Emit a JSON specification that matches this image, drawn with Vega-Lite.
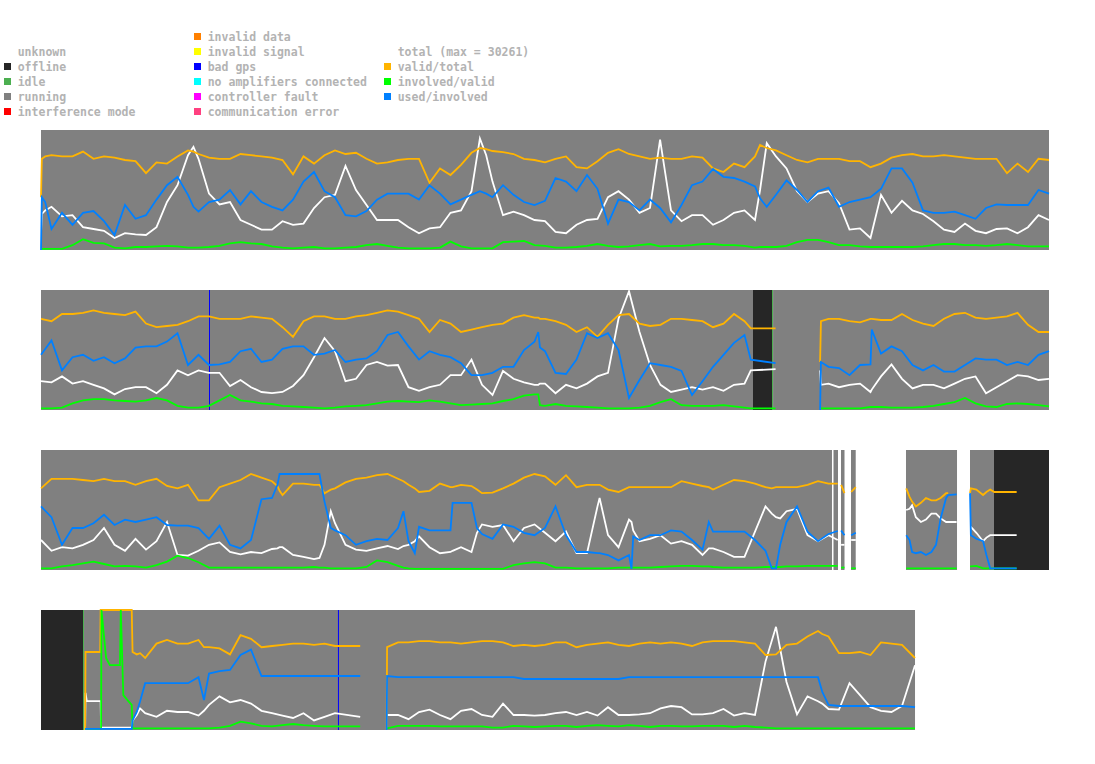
{
"$schema": "https://vega.github.io/schema/vega-lite/v6.json",
"padding": {"left": 3, "top": 29, "right": 4, "bottom": 4},
"background": "white",
"config": {"view": {"stroke": null}},
"spacing": 11,
"resolve": {"scale": {"color": "independent", "x": "independent", "y": "independent"}},
"vconcat": [
{
"width": 1045, "height": 90,
"data": {"values": [
{"c":0,"row":1,"s":"unknown"},{"c":0,"row":2,"s":"offline"},{"c":0,"row":3,"s":"idle"},{"c":0,"row":4,"s":"running"},{"c":0,"row":5,"s":"interference mode"},
{"c":1,"row":0,"s":"invalid data"},{"c":1,"row":1,"s":"invalid signal"},{"c":1,"row":2,"s":"bad gps"},{"c":1,"row":3,"s":"no amplifiers connected"},{"c":1,"row":4,"s":"controller fault"},{"c":1,"row":5,"s":"communication error"},
{"c":2,"row":1,"s":"total (max = 30261)"},{"c":2,"row":2,"s":"valid/total"},{"c":2,"row":3,"s":"involved/valid"},{"c":2,"row":4,"s":"used/involved"}
]},
"encoding": {
"x": {"field": "c", "type": "quantitative", "scale": {"domain": [-0.01842, 5.48158], "nice": false, "zero": false}, "axis": null},
"y": {"field": "row", "type": "quantitative", "scale": {"domain": [-0.5, 5.5], "reverse": true, "nice": false, "zero": false}, "axis": null}
},
"layer": [
{"mark": {"type": "square", "size": 49, "opacity": 1, "strokeWidth": 0},
 "encoding": {"color": {"field": "s", "type": "nominal", "legend": null, "scale": {
 "domain": ["unknown","offline","idle","running","interference mode","invalid data","invalid signal","bad gps","no amplifiers connected","controller fault","communication error","total (max = 30261)","valid/total","involved/valid","used/involved"],
 "range": ["#ffffff","#262626","#4caf50","#808080","#ff0000","#ff8000","#ffff00","#0000ff","#00ffff","#ff00ff","#ff4080","#ffffff","#ffb400","#00ff00","#0080ff"]}}}},
{"mark": {"type": "text", "align": "left", "baseline": "middle", "dx": 10.2, "dy": 1, "font": "DejaVu Sans Mono", "fontSize": 11.5, "fontWeight": "bold", "color": "#b3b3b3"},
 "encoding": {"text": {"field": "s"}}}
]
},
{
"data": {"values": [
{"r":1,"s":"running","a":0,"z":24},
{"r":2,"s":"running","a":0,"z":16.952},{"r":2,"s":"offline","a":16.952,"z":17.405},{"r":2,"s":"idle","a":17.405,"z":17.43},{"r":2,"s":"running","a":17.43,"z":24},{"r":2,"s":"bad gps","a":4.0,"z":4.024},
{"r":3,"s":"running","a":0,"z":18.833},{"r":3,"s":"running","a":18.869,"z":18.976},{"r":3,"s":"running","a":19.048,"z":19.131},{"r":3,"s":"running","a":19.286,"z":19.398},{"r":3,"s":"running","a":20.595,"z":21.81},{"r":3,"s":"running","a":22.119,"z":22.69},{"r":3,"s":"offline","a":22.69,"z":24},
{"r":4,"s":"offline","a":0,"z":1.0},{"r":4,"s":"idle","a":1.0,"z":1.024},{"r":4,"s":"running","a":1.024,"z":20.81},{"r":4,"s":"bad gps","a":7.07,"z":7.094},

{"r":1,"q":1,"h":0,"val":0.44,"tot":0.14,"inv":0.01,"use":0},
{"r":1,"q":1,"h":0.02,"val":0.76,"tot":0.30,"inv":0.01,"use":0.44},
{"r":1,"q":1,"h":0.1,"val":0.78,"tot":0.33,"inv":0.01,"use":0.40},
{"r":1,"q":1,"h":0.25,"val":0.79,"tot":0.36,"inv":0.01,"use":0.175},
{"r":1,"q":1,"h":0.5,"val":0.78,"tot":0.28,"inv":0.01,"use":0.31},
{"r":1,"q":1,"h":0.75,"val":0.78,"tot":0.29,"inv":0.04,"use":0.21},
{"r":1,"q":1,"h":1,"val":0.82,"tot":0.19,"inv":0.09,"use":0.31},
{"r":1,"q":1,"h":1.25,"val":0.76,"tot":0.175,"inv":0.06,"use":0.325},
{"r":1,"q":1,"h":1.5,"val":0.78,"tot":0.16,"inv":0.055,"use":0.24},
{"r":1,"q":1,"h":1.75,"val":0.77,"tot":0.10,"inv":0.02,"use":0.125},
{"r":1,"q":1,"h":2,"val":0.75,"tot":0.14,"inv":0.014,"use":0.375},
{"r":1,"q":1,"h":2.25,"val":0.74,"tot":0.13,"inv":0.025,"use":0.26},
{"r":1,"q":1,"h":2.5,"val":0.64,"tot":0.125,"inv":0.025,"use":0.29},
{"r":1,"q":1,"h":2.75,"val":0.73,"tot":0.19,"inv":0.03,"use":0.42},
{"r":1,"q":1,"h":3,"val":0.72,"tot":0.40,"inv":0.035,"use":0.54},
{"r":1,"q":1,"h":3.25,"val":0.78,"tot":0.54,"inv":0.03,"use":0.61},
{"r":1,"q":1,"h":3.5,"val":0.83,"tot":0.79,"inv":0.02,"use":0.46},
{"r":1,"q":1,"h":3.63,"val":0.82,"tot":0.86,"inv":0.02,"use":0.36},
{"r":1,"q":1,"h":3.75,"val":0.80,"tot":0.76,"inv":0.02,"use":0.32},
{"r":1,"q":1,"h":4,"val":0.77,"tot":0.47,"inv":0.025,"use":0.40},
{"r":1,"q":1,"h":4.25,"val":0.76,"tot":0.38,"inv":0.035,"use":0.42},
{"r":1,"q":1,"h":4.5,"val":0.76,"tot":0.40,"inv":0.055,"use":0.50},
{"r":1,"q":1,"h":4.75,"val":0.80,"tot":0.25,"inv":0.065,"use":0.38},
{"r":1,"q":1,"h":5,"val":0.79,"tot":0.21,"inv":0.055,"use":0.49},
{"r":1,"q":1,"h":5.25,"val":0.78,"tot":0.17,"inv":0.05,"use":0.40},
{"r":1,"q":1,"h":5.5,"val":0.77,"tot":0.17,"inv":0.03,"use":0.36},
{"r":1,"q":1,"h":5.75,"val":0.75,"tot":0.24,"inv":0.02,"use":0.33},
{"r":1,"q":1,"h":6,"val":0.63,"tot":0.21,"inv":0.014,"use":0.42},
{"r":1,"q":1,"h":6.25,"val":0.78,"tot":0.22,"inv":0.02,"use":0.57},
{"r":1,"q":1,"h":6.5,"val":0.72,"tot":0.35,"inv":0.025,"use":0.65},
{"r":1,"q":1,"h":6.75,"val":0.79,"tot":0.44,"inv":0.014,"use":0.49},
{"r":1,"q":1,"h":7,"val":0.83,"tot":0.46,"inv":0.014,"use":0.44},
{"r":1,"q":1,"h":7.25,"val":0.80,"tot":0.70,"inv":0.02,"use":0.29},
{"r":1,"q":1,"h":7.5,"val":0.81,"tot":0.50,"inv":0.025,"use":0.28},
{"r":1,"q":1,"h":7.75,"val":0.76,"tot":0.375,"inv":0.04,"use":0.325},
{"r":1,"q":1,"h":8,"val":0.72,"tot":0.25,"inv":0.05,"use":0.42},
{"r":1,"q":1,"h":8.25,"val":0.73,"tot":0.25,"inv":0.035,"use":0.47},
{"r":1,"q":1,"h":8.5,"val":0.75,"tot":0.25,"inv":0.02,"use":0.47},
{"r":1,"q":1,"h":8.75,"val":0.76,"tot":0.19,"inv":0.014,"use":0.47},
{"r":1,"q":1,"h":9,"val":0.76,"tot":0.14,"inv":0.014,"use":0.42},
{"r":1,"q":1,"h":9.25,"val":0.56,"tot":0.18,"inv":0.014,"use":0.54},
{"r":1,"q":1,"h":9.5,"val":0.68,"tot":0.19,"inv":0.02,"use":0.47},
{"r":1,"q":1,"h":9.75,"val":0.625,"tot":0.31,"inv":0.07,"use":0.38},
{"r":1,"q":1,"h":10,"val":0.71,"tot":0.33,"inv":0.03,"use":0.42},
{"r":1,"q":1,"h":10.25,"val":0.81,"tot":0.49,"inv":0.014,"use":0.46},
{"r":1,"q":1,"h":10.45,"val":0.85,"tot":0.93,"inv":0.014,"use":0.49},
{"r":1,"q":1,"h":10.6,"val":0.84,"tot":0.79,"inv":0.014,"use":0.47},
{"r":1,"q":1,"h":10.75,"val":0.825,"tot":0.57,"inv":0.014,"use":0.44},
{"r":1,"q":1,"h":11,"val":0.815,"tot":0.29,"inv":0.065,"use":0.54},
{"r":1,"q":1,"h":11.25,"val":0.80,"tot":0.32,"inv":0.07,"use":0.46},
{"r":1,"q":1,"h":11.5,"val":0.76,"tot":0.29,"inv":0.075,"use":0.40},
{"r":1,"q":1,"h":11.75,"val":0.75,"tot":0.25,"inv":0.04,"use":0.375},
{"r":1,"q":1,"h":12,"val":0.73,"tot":0.24,"inv":0.035,"use":0.41},
{"r":1,"q":1,"h":12.25,"val":0.76,"tot":0.15,"inv":0.02,"use":0.60},
{"r":1,"q":1,"h":12.5,"val":0.78,"tot":0.14,"inv":0.02,"use":0.57},
{"r":1,"q":1,"h":12.75,"val":0.69,"tot":0.21,"inv":0.025,"use":0.49},
{"r":1,"q":1,"h":13,"val":0.68,"tot":0.25,"inv":0.035,"use":0.625},
{"r":1,"q":1,"h":13.25,"val":0.74,"tot":0.26,"inv":0.05,"use":0.51},
{"r":1,"q":1,"h":13.5,"val":0.81,"tot":0.44,"inv":0.035,"use":0.22},
{"r":1,"q":1,"h":13.75,"val":0.84,"tot":0.49,"inv":0.025,"use":0.42},
{"r":1,"q":1,"h":14,"val":0.80,"tot":0.42,"inv":0.03,"use":0.40},
{"r":1,"q":1,"h":14.25,"val":0.78,"tot":0.31,"inv":0.04,"use":0.33},
{"r":1,"q":1,"h":14.5,"val":0.76,"tot":0.35,"inv":0.05,"use":0.42},
{"r":1,"q":1,"h":14.74,"val":0.77,"tot":0.92,"inv":0.03,"use":0.35},
{"r":1,"q":1,"h":15,"val":0.76,"tot":0.33,"inv":0.035,"use":0.23},
{"r":1,"q":1,"h":15.25,"val":0.76,"tot":0.24,"inv":0.035,"use":0.375},
{"r":1,"q":1,"h":15.5,"val":0.78,"tot":0.29,"inv":0.04,"use":0.54},
{"r":1,"q":1,"h":15.75,"val":0.77,"tot":0.29,"inv":0.05,"use":0.57},
{"r":1,"q":1,"h":16,"val":0.68,"tot":0.21,"inv":0.05,"use":0.675},
{"r":1,"q":1,"h":16.25,"val":0.65,"tot":0.25,"inv":0.04,"use":0.61},
{"r":1,"q":1,"h":16.5,"val":0.72,"tot":0.31,"inv":0.04,"use":0.60},
{"r":1,"q":1,"h":16.75,"val":0.69,"tot":0.33,"inv":0.035,"use":0.57},
{"r":1,"q":1,"h":17,"val":0.78,"tot":0.25,"inv":0.02,"use":0.53},
{"r":1,"q":1,"h":17.12,"val":0.875,"tot":0.50,"inv":0.025,"use":0.43},
{"r":1,"q":1,"h":17.28,"val":0.85,"tot":0.89,"inv":0.025,"use":0.36},
{"r":1,"q":1,"h":17.5,"val":0.83,"tot":0.78,"inv":0.025,"use":0.46},
{"r":1,"q":1,"h":17.75,"val":0.79,"tot":0.68,"inv":0.035,"use":0.58},
{"r":1,"q":1,"h":18,"val":0.75,"tot":0.49,"inv":0.065,"use":0.50},
{"r":1,"q":1,"h":18.25,"val":0.73,"tot":0.40,"inv":0.085,"use":0.40},
{"r":1,"q":1,"h":18.5,"val":0.76,"tot":0.47,"inv":0.085,"use":0.49},
{"r":1,"q":1,"h":18.75,"val":0.76,"tot":0.49,"inv":0.065,"use":0.52},
{"r":1,"q":1,"h":19,"val":0.76,"tot":0.39,"inv":0.04,"use":0.36},
{"r":1,"q":1,"h":19.25,"val":0.74,"tot":0.17,"inv":0.04,"use":0.40},
{"r":1,"q":1,"h":19.5,"val":0.74,"tot":0.18,"inv":0.03,"use":0.42},
{"r":1,"q":1,"h":19.75,"val":0.69,"tot":0.10,"inv":0.025,"use":0.44},
{"r":1,"q":1,"h":20,"val":0.72,"tot":0.46,"inv":0.025,"use":0.51},
{"r":1,"q":1,"h":20.25,"val":0.77,"tot":0.31,"inv":0.025,"use":0.68},
{"r":1,"q":1,"h":20.5,"val":0.79,"tot":0.41,"inv":0.025,"use":0.68},
{"r":1,"q":1,"h":20.75,"val":0.80,"tot":0.33,"inv":0.025,"use":0.56},
{"r":1,"q":1,"h":21,"val":0.78,"tot":0.30,"inv":0.03,"use":0.33},
{"r":1,"q":1,"h":21.25,"val":0.78,"tot":0.24,"inv":0.04,"use":0.31},
{"r":1,"q":1,"h":21.5,"val":0.79,"tot":0.17,"inv":0.05,"use":0.31},
{"r":1,"q":1,"h":21.75,"val":0.78,"tot":0.15,"inv":0.05,"use":0.32},
{"r":1,"q":1,"h":22,"val":0.77,"tot":0.22,"inv":0.04,"use":0.29},
{"r":1,"q":1,"h":22.25,"val":0.76,"tot":0.16,"inv":0.04,"use":0.26},
{"r":1,"q":1,"h":22.5,"val":0.76,"tot":0.14,"inv":0.035,"use":0.35},
{"r":1,"q":1,"h":22.75,"val":0.76,"tot":0.175,"inv":0.04,"use":0.38},
{"r":1,"q":1,"h":23,"val":0.64,"tot":0.18,"inv":0.05,"use":0.375},
{"r":1,"q":1,"h":23.25,"val":0.72,"tot":0.14,"inv":0.04,"use":0.375},
{"r":1,"q":1,"h":23.5,"val":0.65,"tot":0.19,"inv":0.03,"use":0.375},
{"r":1,"q":1,"h":23.75,"val":0.76,"tot":0.29,"inv":0.03,"use":0.50},
{"r":1,"q":1,"h":24,"val":0.75,"tot":0.25,"inv":0.03,"use":0.47},

{"r":2,"q":1,"h":0,"val":0.76,"tot":0.24,"inv":0.014,"use":0.46},
{"r":2,"q":1,"h":0.25,"val":0.74,"tot":0.23,"inv":0.014,"use":0.58},
{"r":2,"q":1,"h":0.5,"val":0.80,"tot":0.28,"inv":0.02,"use":0.33},
{"r":2,"q":1,"h":0.75,"val":0.80,"tot":0.22,"inv":0.055,"use":0.44},
{"r":2,"q":1,"h":1,"val":0.81,"tot":0.24,"inv":0.08,"use":0.46},
{"r":2,"q":1,"h":1.25,"val":0.83,"tot":0.21,"inv":0.09,"use":0.41},
{"r":2,"q":1,"h":1.5,"val":0.81,"tot":0.18,"inv":0.09,"use":0.44},
{"r":2,"q":1,"h":1.75,"val":0.80,"tot":0.13,"inv":0.08,"use":0.39},
{"r":2,"q":1,"h":2,"val":0.79,"tot":0.175,"inv":0.075,"use":0.43},
{"r":2,"q":1,"h":2.25,"val":0.82,"tot":0.19,"inv":0.07,"use":0.52},
{"r":2,"q":1,"h":2.5,"val":0.72,"tot":0.19,"inv":0.08,"use":0.53},
{"r":2,"q":1,"h":2.75,"val":0.69,"tot":0.14,"inv":0.10,"use":0.53},
{"r":2,"q":1,"h":3,"val":0.70,"tot":0.21,"inv":0.08,"use":0.57},
{"r":2,"q":1,"h":3.25,"val":0.71,"tot":0.33,"inv":0.035,"use":0.64},
{"r":2,"q":1,"h":3.5,"val":0.74,"tot":0.29,"inv":0.02,"use":0.375},
{"r":2,"q":1,"h":3.75,"val":0.78,"tot":0.33,"inv":0.02,"use":0.46},
{"r":2,"q":1,"h":4,"val":0.78,"tot":0.31,"inv":0.035,"use":0.375},
{"r":2,"q":1,"h":4.25,"val":0.76,"tot":0.31,"inv":0.08,"use":0.38},
{"r":2,"q":1,"h":4.5,"val":0.76,"tot":0.20,"inv":0.125,"use":0.40},
{"r":2,"q":1,"h":4.75,"val":0.76,"tot":0.25,"inv":0.08,"use":0.49},
{"r":2,"q":1,"h":5,"val":0.78,"tot":0.19,"inv":0.07,"use":0.51},
{"r":2,"q":1,"h":5.25,"val":0.77,"tot":0.15,"inv":0.055,"use":0.40},
{"r":2,"q":1,"h":5.5,"val":0.76,"tot":0.14,"inv":0.05,"use":0.42},
{"r":2,"q":1,"h":5.75,"val":0.69,"tot":0.15,"inv":0.035,"use":0.51},
{"r":2,"q":1,"h":6,"val":0.61,"tot":0.20,"inv":0.03,"use":0.53},
{"r":2,"q":1,"h":6.25,"val":0.74,"tot":0.29,"inv":0.025,"use":0.53},
{"r":2,"q":1,"h":6.5,"val":0.78,"tot":0.44,"inv":0.02,"use":0.46},
{"r":2,"q":1,"h":6.75,"val":0.78,"tot":0.60,"inv":0.014,"use":0.47},
{"r":2,"q":1,"h":7,"val":0.76,"tot":0.49,"inv":0.02,"use":0.50},
{"r":2,"q":1,"h":7.25,"val":0.76,"tot":0.24,"inv":0.03,"use":0.40},
{"r":2,"q":1,"h":7.5,"val":0.78,"tot":0.26,"inv":0.035,"use":0.42},
{"r":2,"q":1,"h":7.75,"val":0.79,"tot":0.375,"inv":0.04,"use":0.43},
{"r":2,"q":1,"h":8,"val":0.81,"tot":0.40,"inv":0.055,"use":0.49},
{"r":2,"q":1,"h":8.25,"val":0.83,"tot":0.37,"inv":0.07,"use":0.625},
{"r":2,"q":1,"h":8.5,"val":0.82,"tot":0.375,"inv":0.075,"use":0.65},
{"r":2,"q":1,"h":8.75,"val":0.79,"tot":0.19,"inv":0.07,"use":0.53},
{"r":2,"q":1,"h":9,"val":0.76,"tot":0.16,"inv":0.065,"use":0.42},
{"r":2,"q":1,"h":9.25,"val":0.65,"tot":0.19,"inv":0.08,"use":0.49},
{"r":2,"q":1,"h":9.5,"val":0.75,"tot":0.21,"inv":0.07,"use":0.46},
{"r":2,"q":1,"h":9.75,"val":0.72,"tot":0.29,"inv":0.055,"use":0.44},
{"r":2,"q":1,"h":10,"val":0.65,"tot":0.29,"inv":0.04,"use":0.39},
{"r":2,"q":1,"h":10.25,"val":0.67,"tot":0.42,"inv":0.045,"use":0.29},
{"r":2,"q":1,"h":10.5,"val":0.69,"tot":0.21,"inv":0.05,"use":0.29},
{"r":2,"q":1,"h":10.75,"val":0.71,"tot":0.125,"inv":0.055,"use":0.31},
{"r":2,"q":1,"h":11,"val":0.72,"tot":0.325,"inv":0.075,"use":0.36},
{"r":2,"q":1,"h":11.25,"val":0.77,"tot":0.26,"inv":0.09,"use":0.36},
{"r":2,"q":1,"h":11.5,"val":0.79,"tot":0.23,"inv":0.12,"use":0.50},
{"r":2,"q":1,"h":11.75,"val":0.77,"tot":0.21,"inv":0.13,"use":0.57},
{"r":2,"q":1,"h":11.84,"val":0.77,"tot":0.21,"inv":0.13,"use":0.65},
{"r":2,"q":1,"h":11.88,"val":0.76,"tot":0.22,"inv":0.04,"use":0.52},
{"r":2,"q":1,"h":12,"val":0.76,"tot":0.22,"inv":0.035,"use":0.49},
{"r":2,"q":1,"h":12.25,"val":0.74,"tot":0.14,"inv":0.05,"use":0.31},
{"r":2,"q":1,"h":12.5,"val":0.71,"tot":0.21,"inv":0.035,"use":0.30},
{"r":2,"q":1,"h":12.75,"val":0.65,"tot":0.18,"inv":0.03,"use":0.42},
{"r":2,"q":1,"h":13,"val":0.69,"tot":0.22,"inv":0.025,"use":0.64},
{"r":2,"q":1,"h":13.25,"val":0.61,"tot":0.28,"inv":0.02,"use":0.60},
{"r":2,"q":1,"h":13.5,"val":0.71,"tot":0.31,"inv":0.014,"use":0.64},
{"r":2,"q":1,"h":13.75,"val":0.79,"tot":0.76,"inv":0.014,"use":0.50},
{"r":2,"q":1,"h":14,"val":0.80,"tot":0.99,"inv":0.014,"use":0.10},
{"r":2,"q":1,"h":14.25,"val":0.72,"tot":0.65,"inv":0.02,"use":0.25},
{"r":2,"q":1,"h":14.5,"val":0.70,"tot":0.375,"inv":0.035,"use":0.39},
{"r":2,"q":1,"h":14.75,"val":0.71,"tot":0.21,"inv":0.065,"use":0.375},
{"r":2,"q":1,"h":15,"val":0.76,"tot":0.15,"inv":0.09,"use":0.36},
{"r":2,"q":1,"h":15.25,"val":0.76,"tot":0.17,"inv":0.04,"use":0.325},
{"r":2,"q":1,"h":15.5,"val":0.75,"tot":0.19,"inv":0.035,"use":0.125},
{"r":2,"q":1,"h":15.75,"val":0.74,"tot":0.17,"inv":0.035,"use":0.24},
{"r":2,"q":1,"h":16,"val":0.69,"tot":0.19,"inv":0.035,"use":0.36},
{"r":2,"q":1,"h":16.25,"val":0.72,"tot":0.16,"inv":0.04,"use":0.46},
{"r":2,"q":1,"h":16.5,"val":0.80,"tot":0.21,"inv":0.03,"use":0.56},
{"r":2,"q":1,"h":16.75,"val":0.74,"tot":0.22,"inv":0.02,"use":0.625},
{"r":2,"q":1,"h":16.9,"val":0.68,"tot":0.33,"inv":0.014,"use":0.42},
{"r":2,"q":1,"h":17.49,"val":0.68,"tot":0.34,"inv":0.014,"use":0.39},
{"r":2,"q":2,"h":18.55,"val":0.40,"tot":0.33,"inv":0.014,"use":0},
{"r":2,"q":2,"h":18.57,"val":0.74,"tot":0.21,"inv":0.014,"use":0.40},
{"r":2,"q":2,"h":18.75,"val":0.76,"tot":0.22,"inv":0.014,"use":0.36},
{"r":2,"q":2,"h":19,"val":0.76,"tot":0.19,"inv":0.014,"use":0.35},
{"r":2,"q":2,"h":19.25,"val":0.74,"tot":0.21,"inv":0.014,"use":0.29},
{"r":2,"q":2,"h":19.5,"val":0.73,"tot":0.22,"inv":0.014,"use":0.375},
{"r":2,"q":2,"h":19.75,"val":0.76,"tot":0.15,"inv":0.025,"use":0.38},
{"r":2,"q":2,"h":19.78,"val":0.76,"tot":0.17,"inv":0.025,"use":0.67},
{"r":2,"q":2,"h":20,"val":0.75,"tot":0.28,"inv":0.025,"use":0.47},
{"r":2,"q":2,"h":20.25,"val":0.75,"tot":0.38,"inv":0.02,"use":0.53},
{"r":2,"q":2,"h":20.5,"val":0.80,"tot":0.26,"inv":0.02,"use":0.49},
{"r":2,"q":2,"h":20.75,"val":0.75,"tot":0.18,"inv":0.02,"use":0.375},
{"r":2,"q":2,"h":21,"val":0.72,"tot":0.21,"inv":0.025,"use":0.33},
{"r":2,"q":2,"h":21.25,"val":0.70,"tot":0.21,"inv":0.035,"use":0.375},
{"r":2,"q":2,"h":21.5,"val":0.76,"tot":0.18,"inv":0.05,"use":0.32},
{"r":2,"q":2,"h":21.75,"val":0.80,"tot":0.22,"inv":0.065,"use":0.32},
{"r":2,"q":2,"h":22,"val":0.81,"tot":0.26,"inv":0.10,"use":0.375},
{"r":2,"q":2,"h":22.25,"val":0.77,"tot":0.28,"inv":0.055,"use":0.43},
{"r":2,"q":2,"h":22.5,"val":0.76,"tot":0.14,"inv":0.03,"use":0.42},
{"r":2,"q":2,"h":22.75,"val":0.77,"tot":0.19,"inv":0.025,"use":0.42},
{"r":2,"q":2,"h":23,"val":0.78,"tot":0.24,"inv":0.05,"use":0.375},
{"r":2,"q":2,"h":23.25,"val":0.81,"tot":0.29,"inv":0.055,"use":0.40},
{"r":2,"q":2,"h":23.5,"val":0.71,"tot":0.28,"inv":0.05,"use":0.375},
{"r":2,"q":2,"h":23.75,"val":0.65,"tot":0.25,"inv":0.04,"use":0.46},
{"r":2,"q":2,"h":24,"val":0.65,"tot":0.26,"inv":0.03,"use":0.49},

{"r":3,"q":1,"h":0,"val":0.68,"tot":0.25,"inv":0.014,"use":0.53},
{"r":3,"q":1,"h":0.25,"val":0.76,"tot":0.16,"inv":0.014,"use":0.44},
{"r":3,"q":1,"h":0.5,"val":0.76,"tot":0.19,"inv":0.03,"use":0.21},
{"r":3,"q":1,"h":0.75,"val":0.76,"tot":0.18,"inv":0.04,"use":0.35},
{"r":3,"q":1,"h":1,"val":0.75,"tot":0.21,"inv":0.055,"use":0.35},
{"r":3,"q":1,"h":1.25,"val":0.74,"tot":0.25,"inv":0.07,"use":0.39},
{"r":3,"q":1,"h":1.5,"val":0.76,"tot":0.35,"inv":0.05,"use":0.46},
{"r":3,"q":1,"h":1.75,"val":0.74,"tot":0.21,"inv":0.03,"use":0.375},
{"r":3,"q":1,"h":2,"val":0.74,"tot":0.16,"inv":0.035,"use":0.42},
{"r":3,"q":1,"h":2.25,"val":0.71,"tot":0.26,"inv":0.03,"use":0.40},
{"r":3,"q":1,"h":2.5,"val":0.74,"tot":0.17,"inv":0.02,"use":0.42},
{"r":3,"q":1,"h":2.75,"val":0.76,"tot":0.24,"inv":0.04,"use":0.44},
{"r":3,"q":1,"h":3,"val":0.70,"tot":0.40,"inv":0.07,"use":0.375},
{"r":3,"q":1,"h":3.25,"val":0.68,"tot":0.125,"inv":0.12,"use":0.37},
{"r":3,"q":1,"h":3.5,"val":0.71,"tot":0.12,"inv":0.10,"use":0.37},
{"r":3,"q":1,"h":3.75,"val":0.58,"tot":0.16,"inv":0.065,"use":0.35},
{"r":3,"q":1,"h":4,"val":0.58,"tot":0.21,"inv":0.02,"use":0.26},
{"r":3,"q":1,"h":4.25,"val":0.69,"tot":0.23,"inv":0.02,"use":0.37},
{"r":3,"q":1,"h":4.5,"val":0.72,"tot":0.15,"inv":0.02,"use":0.21},
{"r":3,"q":1,"h":4.75,"val":0.75,"tot":0.13,"inv":0.02,"use":0.18},
{"r":3,"q":1,"h":5,"val":0.80,"tot":0.15,"inv":0.02,"use":0.25},
{"r":3,"q":1,"h":5.25,"val":0.77,"tot":0.14,"inv":0.02,"use":0.59},
{"r":3,"q":1,"h":5.5,"val":0.74,"tot":0.175,"inv":0.02,"use":0.60},
{"r":3,"q":1,"h":5.63,"val":0.70,"tot":0.18,"inv":0.02,"use":0.71},
{"r":3,"q":1,"h":5.68,"val":0.66,"tot":0.19,"inv":0.02,"use":0.80},
{"r":3,"q":1,"h":5.75,"val":0.625,"tot":0.19,"inv":0.02,"use":0.80},
{"r":3,"q":1,"h":6,"val":0.72,"tot":0.125,"inv":0.02,"use":0.80},
{"r":3,"q":1,"h":6.25,"val":0.72,"tot":0.11,"inv":0.02,"use":0.80},
{"r":3,"q":1,"h":6.5,"val":0.71,"tot":0.09,"inv":0.025,"use":0.80},
{"r":3,"q":1,"h":6.63,"val":0.71,"tot":0.10,"inv":0.02,"use":0.80},
{"r":3,"q":1,"h":6.75,"val":0.64,"tot":0.21,"inv":0.02,"use":0.57},
{"r":3,"q":1,"h":6.9,"val":0.67,"tot":0.49,"inv":0.014,"use":0.35},
{"r":3,"q":1,"h":7,"val":0.68,"tot":0.39,"inv":0.014,"use":0.33},
{"r":3,"q":1,"h":7.25,"val":0.73,"tot":0.21,"inv":0.014,"use":0.29},
{"r":3,"q":1,"h":7.5,"val":0.76,"tot":0.17,"inv":0.014,"use":0.21},
{"r":3,"q":1,"h":7.75,"val":0.77,"tot":0.16,"inv":0.025,"use":0.24},
{"r":3,"q":1,"h":8,"val":0.79,"tot":0.18,"inv":0.08,"use":0.26},
{"r":3,"q":1,"h":8.25,"val":0.80,"tot":0.20,"inv":0.065,"use":0.25},
{"r":3,"q":1,"h":8.5,"val":0.76,"tot":0.175,"inv":0.035,"use":0.35},
{"r":3,"q":1,"h":8.63,"val":0.74,"tot":0.20,"inv":0.02,"use":0.49},
{"r":3,"q":1,"h":8.75,"val":0.71,"tot":0.21,"inv":0.014,"use":0.24},
{"r":3,"q":1,"h":8.9,"val":0.68,"tot":0.24,"inv":0.01,"use":0.14},
{"r":3,"q":1,"h":9,"val":0.65,"tot":0.28,"inv":0.01,"use":0.36},
{"r":3,"q":1,"h":9.25,"val":0.66,"tot":0.19,"inv":0.01,"use":0.33},
{"r":3,"q":1,"h":9.5,"val":0.72,"tot":0.14,"inv":0.01,"use":0.33},
{"r":3,"q":1,"h":9.75,"val":0.69,"tot":0.15,"inv":0.01,"use":0.33},
{"r":3,"q":1,"h":9.8,"val":0.69,"tot":0.16,"inv":0.01,"use":0.56},
{"r":3,"q":1,"h":10,"val":0.71,"tot":0.19,"inv":0.01,"use":0.56},
{"r":3,"q":1,"h":10.25,"val":0.70,"tot":0.15,"inv":0.01,"use":0.56},
{"r":3,"q":1,"h":10.38,"val":0.67,"tot":0.31,"inv":0.01,"use":0.35},
{"r":3,"q":1,"h":10.5,"val":0.64,"tot":0.38,"inv":0.01,"use":0.30},
{"r":3,"q":1,"h":10.75,"val":0.645,"tot":0.36,"inv":0.01,"use":0.26},
{"r":3,"q":1,"h":11,"val":0.68,"tot":0.375,"inv":0.01,"use":0.38},
{"r":3,"q":1,"h":11.25,"val":0.72,"tot":0.24,"inv":0.04,"use":0.36},
{"r":3,"q":1,"h":11.5,"val":0.77,"tot":0.35,"inv":0.055,"use":0.31},
{"r":3,"q":1,"h":11.75,"val":0.80,"tot":0.38,"inv":0.065,"use":0.29},
{"r":3,"q":1,"h":12,"val":0.78,"tot":0.31,"inv":0.055,"use":0.35},
{"r":3,"q":1,"h":12.25,"val":0.71,"tot":0.24,"inv":0.02,"use":0.53},
{"r":3,"q":1,"h":12.5,"val":0.79,"tot":0.32,"inv":0.02,"use":0.29},
{"r":3,"q":1,"h":12.75,"val":0.69,"tot":0.14,"inv":0.014,"use":0.15},
{"r":3,"q":1,"h":13,"val":0.71,"tot":0.14,"inv":0.014,"use":0.15},
{"r":3,"q":1,"h":13.25,"val":0.71,"tot":0.53,"inv":0.014,"use":0.14},
{"r":3,"q":1,"h":13.3,"val":0.71,"tot":0.60,"inv":0.014,"use":0.14},
{"r":3,"q":1,"h":13.5,"val":0.67,"tot":0.29,"inv":0.014,"use":0.125},
{"r":3,"q":1,"h":13.75,"val":0.65,"tot":0.19,"inv":0.02,"use":0.08},
{"r":3,"q":1,"h":14,"val":0.69,"tot":0.42,"inv":0.02,"use":0.125},
{"r":3,"q":1,"h":14.06,"val":0.69,"tot":0.40,"inv":0.02,"use":0.01},
{"r":3,"q":1,"h":14.1,"val":0.69,"tot":0.33,"inv":0.02,"use":0.28},
{"r":3,"q":1,"h":14.25,"val":0.69,"tot":0.24,"inv":0.02,"use":0.25},
{"r":3,"q":1,"h":14.5,"val":0.69,"tot":0.26,"inv":0.02,"use":0.29},
{"r":3,"q":1,"h":14.75,"val":0.69,"tot":0.29,"inv":0.025,"use":0.29},
{"r":3,"q":1,"h":15,"val":0.69,"tot":0.22,"inv":0.03,"use":0.33},
{"r":3,"q":1,"h":15.25,"val":0.74,"tot":0.24,"inv":0.035,"use":0.32},
{"r":3,"q":1,"h":15.5,"val":0.72,"tot":0.21,"inv":0.035,"use":0.25},
{"r":3,"q":1,"h":15.75,"val":0.70,"tot":0.125,"inv":0.03,"use":0.17},
{"r":3,"q":1,"h":15.9,"val":0.69,"tot":0.18,"inv":0.03,"use":0.40},
{"r":3,"q":1,"h":16,"val":0.67,"tot":0.18,"inv":0.025,"use":0.32},
{"r":3,"q":1,"h":16.25,"val":0.71,"tot":0.15,"inv":0.02,"use":0.32},
{"r":3,"q":1,"h":16.5,"val":0.75,"tot":0.11,"inv":0.02,"use":0.32},
{"r":3,"q":1,"h":16.75,"val":0.74,"tot":0.11,"inv":0.02,"use":0.32},
{"r":3,"q":1,"h":17,"val":0.72,"tot":0.32,"inv":0.02,"use":0.25},
{"r":3,"q":1,"h":17.25,"val":0.69,"tot":0.53,"inv":0.025,"use":0.16},
{"r":3,"q":1,"h":17.4,"val":0.68,"tot":0.47,"inv":0.025,"use":0.014},
{"r":3,"q":1,"h":17.5,"val":0.69,"tot":0.44,"inv":0.025,"use":0.014},
{"r":3,"q":1,"h":17.6,"val":0.69,"tot":0.43,"inv":0.025,"use":0.21},
{"r":3,"q":1,"h":17.75,"val":0.69,"tot":0.49,"inv":0.03,"use":0.40},
{"r":3,"q":1,"h":18,"val":0.69,"tot":0.51,"inv":0.03,"use":0.53},
{"r":3,"q":1,"h":18.25,"val":0.71,"tot":0.29,"inv":0.035,"use":0.32},
{"r":3,"q":1,"h":18.5,"val":0.74,"tot":0.24,"inv":0.035,"use":0.24},
{"r":3,"q":1,"h":18.75,"val":0.72,"tot":0.29,"inv":0.035,"use":0.30},
{"r":3,"q":1,"h":18.97,"val":0.72,"tot":0.25,"inv":0.035,"use":0.325},
{"r":3,"q":2,"h":19.05,"val":0.71,"tot":0.21,"inv":0.02,"use":0.33},
{"r":3,"q":2,"h":19.13,"val":0.64,"tot":0.21,"inv":0.02,"use":0.29},
{"r":3,"q":3,"h":19.29,"val":0.65,"tot":0.25,"inv":0.014,"use":0.29},
{"r":3,"q":3,"h":19.4,"val":0.69,"tot":0.25,"inv":0.014,"use":0.31},
{"r":3,"q":4,"h":20.6,"val":0.68,"tot":0.50,"inv":0.014,"use":0.29},
{"r":3,"q":4,"h":20.68,"val":0.61,"tot":0.51,"inv":0.014,"use":0.25},
{"r":3,"q":4,"h":20.74,"val":0.57,"tot":0.54,"inv":0.014,"use":0.15},
{"r":3,"q":4,"h":20.83,"val":0.53,"tot":0.44,"inv":0.014,"use":0.14},
{"r":3,"q":4,"h":20.95,"val":0.56,"tot":0.40,"inv":0.014,"use":0.15},
{"r":3,"q":4,"h":21.07,"val":0.60,"tot":0.42,"inv":0.014,"use":0.125},
{"r":3,"q":4,"h":21.2,"val":0.58,"tot":0.47,"inv":0.014,"use":0.15},
{"r":3,"q":4,"h":21.31,"val":0.58,"tot":0.47,"inv":0.014,"use":0.21},
{"r":3,"q":4,"h":21.42,"val":0.60,"tot":0.43,"inv":0.014,"use":0.43},
{"r":3,"q":4,"h":21.55,"val":0.64,"tot":0.40,"inv":0.014,"use":0.60},
{"r":3,"q":4,"h":21.6,"val":0.64,"tot":0.40,"inv":0.014,"use":0.625},
{"r":3,"q":4,"h":21.8,"val":null,"tot":0.40,"inv":0.014,"use":0.63},
{"r":3,"q":5,"h":22.12,"val":0.64,"tot":0.36,"inv":0.03,"use":0.64},
{"r":3,"q":5,"h":22.14,"val":0.68,"tot":0.36,"inv":0.03,"use":0.29},
{"r":3,"q":5,"h":22.27,"val":0.67,"tot":0.31,"inv":0.035,"use":0.26},
{"r":3,"q":5,"h":22.43,"val":0.625,"tot":0.24,"inv":0.014,"use":0.24},
{"r":3,"q":5,"h":22.51,"val":0.65,"tot":0.27,"inv":0.014,"use":0.125},
{"r":3,"q":5,"h":22.6,"val":0.67,"tot":0.29,"inv":0.014,"use":0.014},
{"r":3,"q":5,"h":22.7,"val":0.65,"tot":0.29,"inv":0.014,"use":0.014},
{"r":3,"q":5,"h":23.23,"val":0.65,"tot":0.29,"inv":0.014,"use":0.014},

{"r":4,"q":1,"h":1.05,"val":0,"tot":0,"inv":0.01,"use":0.01},
{"r":4,"q":1,"h":1.06,"val":0.65,"tot":0.31,"inv":0.01,"use":0.01},
{"r":4,"q":1,"h":1.09,"val":0.65,"tot":0.24,"inv":0.01,"use":0.01},
{"r":4,"q":1,"h":1.41,"val":0.65,"tot":0.24,"inv":0.01,"use":0.01},
{"r":4,"q":1,"h":1.42,"val":1.0,"tot":0.24,"inv":0.01,"use":0.01},
{"r":4,"q":1,"h":1.43,"val":1.0,"tot":0.02,"inv":0.01,"use":0.01},
{"r":4,"q":1,"h":1.44,"val":1.0,"tot":0.02,"inv":1.0,"use":0.01},
{"r":4,"q":1,"h":1.55,"val":1.0,"tot":0.02,"inv":0.60,"use":0.01},
{"r":4,"q":1,"h":1.64,"val":1.0,"tot":0.02,"inv":0.54,"use":0.01},
{"r":4,"q":1,"h":1.88,"val":1.0,"tot":0.02,"inv":0.54,"use":0.01},
{"r":4,"q":1,"h":1.9,"val":1.0,"tot":0.02,"inv":1.0,"use":0.01},
{"r":4,"q":1,"h":1.96,"val":1.0,"tot":0.02,"inv":0.29,"use":0.01},
{"r":4,"q":1,"h":2.08,"val":1.0,"tot":0.02,"inv":0.24,"use":0.01},
{"r":4,"q":1,"h":2.16,"val":1.0,"tot":0.02,"inv":0.21,"use":0.01},
{"r":4,"q":1,"h":2.18,"val":0.65,"tot":0.08,"inv":0.014,"use":0.08},
{"r":4,"q":1,"h":2.28,"val":0.63,"tot":0.125,"inv":0.014,"use":0.15},
{"r":4,"q":1,"h":2.36,"val":0.64,"tot":0.18,"inv":0.014,"use":0.24},
{"r":4,"q":1,"h":2.48,"val":0.60,"tot":0.14,"inv":0.014,"use":0.39},
{"r":4,"q":1,"h":2.75,"val":0.72,"tot":0.11,"inv":0.014,"use":0.39},
{"r":4,"q":1,"h":3,"val":0.75,"tot":0.16,"inv":0.014,"use":0.39},
{"r":4,"q":1,"h":3.25,"val":0.72,"tot":0.15,"inv":0.014,"use":0.39},
{"r":4,"q":1,"h":3.5,"val":0.72,"tot":0.15,"inv":0.014,"use":0.39},
{"r":4,"q":1,"h":3.75,"val":0.75,"tot":0.12,"inv":0.014,"use":0.44},
{"r":4,"q":1,"h":3.88,"val":0.69,"tot":0.16,"inv":0.014,"use":0.25},
{"r":4,"q":1,"h":4,"val":0.69,"tot":0.21,"inv":0.014,"use":0.47},
{"r":4,"q":1,"h":4.25,"val":0.68,"tot":0.28,"inv":0.02,"use":0.49},
{"r":4,"q":1,"h":4.5,"val":0.63,"tot":0.23,"inv":0.035,"use":0.50},
{"r":4,"q":1,"h":4.75,"val":0.79,"tot":0.25,"inv":0.07,"use":0.625},
{"r":4,"q":1,"h":5,"val":0.76,"tot":0.22,"inv":0.055,"use":0.67},
{"r":4,"q":1,"h":5.25,"val":0.69,"tot":0.16,"inv":0.035,"use":0.45},
{"r":4,"q":1,"h":5.5,"val":0.70,"tot":0.14,"inv":0.03,"use":0.45},
{"r":4,"q":1,"h":5.75,"val":0.71,"tot":0.12,"inv":0.04,"use":0.45},
{"r":4,"q":1,"h":6,"val":0.72,"tot":0.10,"inv":0.05,"use":0.45},
{"r":4,"q":1,"h":6.25,"val":0.72,"tot":0.14,"inv":0.04,"use":0.45},
{"r":4,"q":1,"h":6.5,"val":0.71,"tot":0.08,"inv":0.035,"use":0.45},
{"r":4,"q":1,"h":6.75,"val":0.72,"tot":0.11,"inv":0.03,"use":0.45},
{"r":4,"q":1,"h":7,"val":0.70,"tot":0.14,"inv":0.03,"use":0.45},
{"r":4,"q":1,"h":7.6,"val":0.70,"tot":0.11,"inv":0.03,"use":0.45},
{"r":4,"q":2,"h":8.23,"val":0,"tot":0.125,"inv":0.014,"use":0},
{"r":4,"q":2,"h":8.24,"val":0.69,"tot":0.125,"inv":0.014,"use":0.45},
{"r":4,"q":2,"h":8.5,"val":0.73,"tot":0.125,"inv":0.035,"use":0.44},
{"r":4,"q":2,"h":8.75,"val":0.73,"tot":0.09,"inv":0.035,"use":0.44},
{"r":4,"q":2,"h":9,"val":0.74,"tot":0.15,"inv":0.035,"use":0.44},
{"r":4,"q":2,"h":9.25,"val":0.74,"tot":0.17,"inv":0.035,"use":0.44},
{"r":4,"q":2,"h":9.5,"val":0.73,"tot":0.125,"inv":0.03,"use":0.44},
{"r":4,"q":2,"h":9.75,"val":0.73,"tot":0.09,"inv":0.03,"use":0.44},
{"r":4,"q":2,"h":10,"val":0.72,"tot":0.16,"inv":0.03,"use":0.44},
{"r":4,"q":2,"h":10.25,"val":0.73,"tot":0.175,"inv":0.03,"use":0.44},
{"r":4,"q":2,"h":10.5,"val":0.74,"tot":0.125,"inv":0.03,"use":0.44},
{"r":4,"q":2,"h":10.75,"val":0.74,"tot":0.11,"inv":0.02,"use":0.44},
{"r":4,"q":2,"h":11,"val":0.73,"tot":0.22,"inv":0.02,"use":0.44},
{"r":4,"q":2,"h":11.25,"val":0.70,"tot":0.125,"inv":0.035,"use":0.44},
{"r":4,"q":2,"h":11.5,"val":0.71,"tot":0.125,"inv":0.03,"use":0.425},
{"r":4,"q":2,"h":11.75,"val":0.70,"tot":0.12,"inv":0.025,"use":0.425},
{"r":4,"q":2,"h":12,"val":0.71,"tot":0.125,"inv":0.03,"use":0.425},
{"r":4,"q":2,"h":12.25,"val":0.73,"tot":0.14,"inv":0.035,"use":0.425},
{"r":4,"q":2,"h":12.5,"val":0.73,"tot":0.15,"inv":0.035,"use":0.425},
{"r":4,"q":2,"h":12.75,"val":0.69,"tot":0.125,"inv":0.025,"use":0.425},
{"r":4,"q":2,"h":13,"val":0.71,"tot":0.15,"inv":0.035,"use":0.425},
{"r":4,"q":2,"h":13.25,"val":0.72,"tot":0.12,"inv":0.04,"use":0.425},
{"r":4,"q":2,"h":13.5,"val":0.73,"tot":0.19,"inv":0.035,"use":0.425},
{"r":4,"q":2,"h":13.75,"val":0.71,"tot":0.125,"inv":0.03,"use":0.425},
{"r":4,"q":2,"h":14,"val":0.70,"tot":0.125,"inv":0.04,"use":0.44},
{"r":4,"q":2,"h":14.25,"val":0.72,"tot":0.13,"inv":0.035,"use":0.44},
{"r":4,"q":2,"h":14.5,"val":0.73,"tot":0.14,"inv":0.025,"use":0.44},
{"r":4,"q":2,"h":14.75,"val":0.72,"tot":0.18,"inv":0.035,"use":0.44},
{"r":4,"q":2,"h":15,"val":0.73,"tot":0.20,"inv":0.035,"use":0.44},
{"r":4,"q":2,"h":15.25,"val":0.72,"tot":0.19,"inv":0.03,"use":0.44},
{"r":4,"q":2,"h":15.5,"val":0.70,"tot":0.13,"inv":0.03,"use":0.44},
{"r":4,"q":2,"h":15.75,"val":0.73,"tot":0.13,"inv":0.035,"use":0.44},
{"r":4,"q":2,"h":16,"val":0.74,"tot":0.14,"inv":0.035,"use":0.44},
{"r":4,"q":2,"h":16.25,"val":0.74,"tot":0.175,"inv":0.035,"use":0.44},
{"r":4,"q":2,"h":16.5,"val":0.74,"tot":0.12,"inv":0.025,"use":0.44},
{"r":4,"q":2,"h":16.75,"val":0.73,"tot":0.14,"inv":0.035,"use":0.44},
{"r":4,"q":2,"h":17,"val":0.72,"tot":0.125,"inv":0.025,"use":0.44},
{"r":4,"q":2,"h":17.25,"val":0.625,"tot":0.57,"inv":0.02,"use":0.44},
{"r":4,"q":2,"h":17.5,"val":0.63,"tot":0.86,"inv":0.014,"use":0.44},
{"r":4,"q":2,"h":17.75,"val":0.71,"tot":0.40,"inv":0.014,"use":0.44},
{"r":4,"q":2,"h":18,"val":0.72,"tot":0.13,"inv":0.014,"use":0.44},
{"r":4,"q":2,"h":18.25,"val":0.78,"tot":0.28,"inv":0.014,"use":0.44},
{"r":4,"q":2,"h":18.5,"val":0.825,"tot":0.24,"inv":0.014,"use":0.44},
{"r":4,"q":2,"h":18.6,"val":0.80,"tot":0.22,"inv":0.014,"use":0.32},
{"r":4,"q":2,"h":18.75,"val":0.78,"tot":0.175,"inv":0.014,"use":0.21},
{"r":4,"q":2,"h":19,"val":0.64,"tot":0.17,"inv":0.014,"use":0.20},
{"r":4,"q":2,"h":19.25,"val":0.64,"tot":0.39,"inv":0.014,"use":0.20},
{"r":4,"q":2,"h":19.5,"val":0.65,"tot":0.29,"inv":0.014,"use":0.20},
{"r":4,"q":2,"h":19.75,"val":0.625,"tot":0.19,"inv":0.014,"use":0.20},
{"r":4,"q":2,"h":20,"val":0.73,"tot":0.16,"inv":0.014,"use":0.20},
{"r":4,"q":2,"h":20.25,"val":0.72,"tot":0.15,"inv":0.014,"use":0.20},
{"r":4,"q":2,"h":20.5,"val":0.71,"tot":0.20,"inv":0.014,"use":0.20},
{"r":4,"q":2,"h":20.81,"val":0.60,"tot":0.54,"inv":0.014,"use":0.19}
]},
"facet": {"row": {"field": "r", "type": "ordinal", "header": null}},
"spacing": {"row": 32},
"spec": {
"width": 1045, "height": 120,
"layer": [
{"transform": [{"filter": "isValid(datum.s)"}],
 "mark": {"type": "rect", "strokeWidth": 0},
 "encoding": {
  "x": {"field": "a", "type": "quantitative", "scale": {"domain": [-0.88095, 24], "nice": false, "zero": false}, "axis": null},
  "x2": {"field": "z"},
  "color": {"field": "s", "type": "nominal", "legend": null, "scale": {
   "domain": ["unknown","offline","idle","running","interference mode","invalid data","invalid signal","bad gps","no amplifiers connected","controller fault","communication error"],
   "range": ["#ffffff","#262626","#4caf50","#808080","#ff0000","#ff8000","#ffff00","#0000ff","#00ffff","#ff00ff","#ff4080"]}}
 }},
{"transform": [{"filter": "isValid(datum.tot)"}],
 "mark": {"type": "line", "color": "#ffffff", "strokeWidth": 1.8, "invalid": "filter"},
 "encoding": {
  "x": {"field": "h", "type": "quantitative", "scale": {"domain": [-0.88095, 24], "nice": false, "zero": false}, "axis": null},
  "y": {"field": "tot", "type": "quantitative", "scale": {"domain": [0, 1], "nice": false}, "axis": null},
  "detail": {"field": "q", "type": "nominal"}
 }},
{"transform": [{"filter": "isValid(datum.val)"}],
 "mark": {"type": "line", "color": "#ffb400", "strokeWidth": 1.8, "invalid": "filter"},
 "encoding": {
  "x": {"field": "h", "type": "quantitative", "axis": null},
  "y": {"field": "val", "type": "quantitative", "axis": null},
  "detail": {"field": "q", "type": "nominal"}
 }},
{"transform": [{"filter": "isValid(datum.inv)"}],
 "mark": {"type": "line", "color": "#00ff00", "strokeWidth": 1.8, "invalid": "filter"},
 "encoding": {
  "x": {"field": "h", "type": "quantitative", "axis": null},
  "y": {"field": "inv", "type": "quantitative", "axis": null},
  "detail": {"field": "q", "type": "nominal"}
 }},
{"transform": [{"filter": "isValid(datum.use)"}],
 "mark": {"type": "line", "color": "#0080ff", "strokeWidth": 1.8, "invalid": "filter"},
 "encoding": {
  "x": {"field": "h", "type": "quantitative", "axis": null},
  "y": {"field": "use", "type": "quantitative", "axis": null},
  "detail": {"field": "q", "type": "nominal"}
 }}
]
}
}
]
}
